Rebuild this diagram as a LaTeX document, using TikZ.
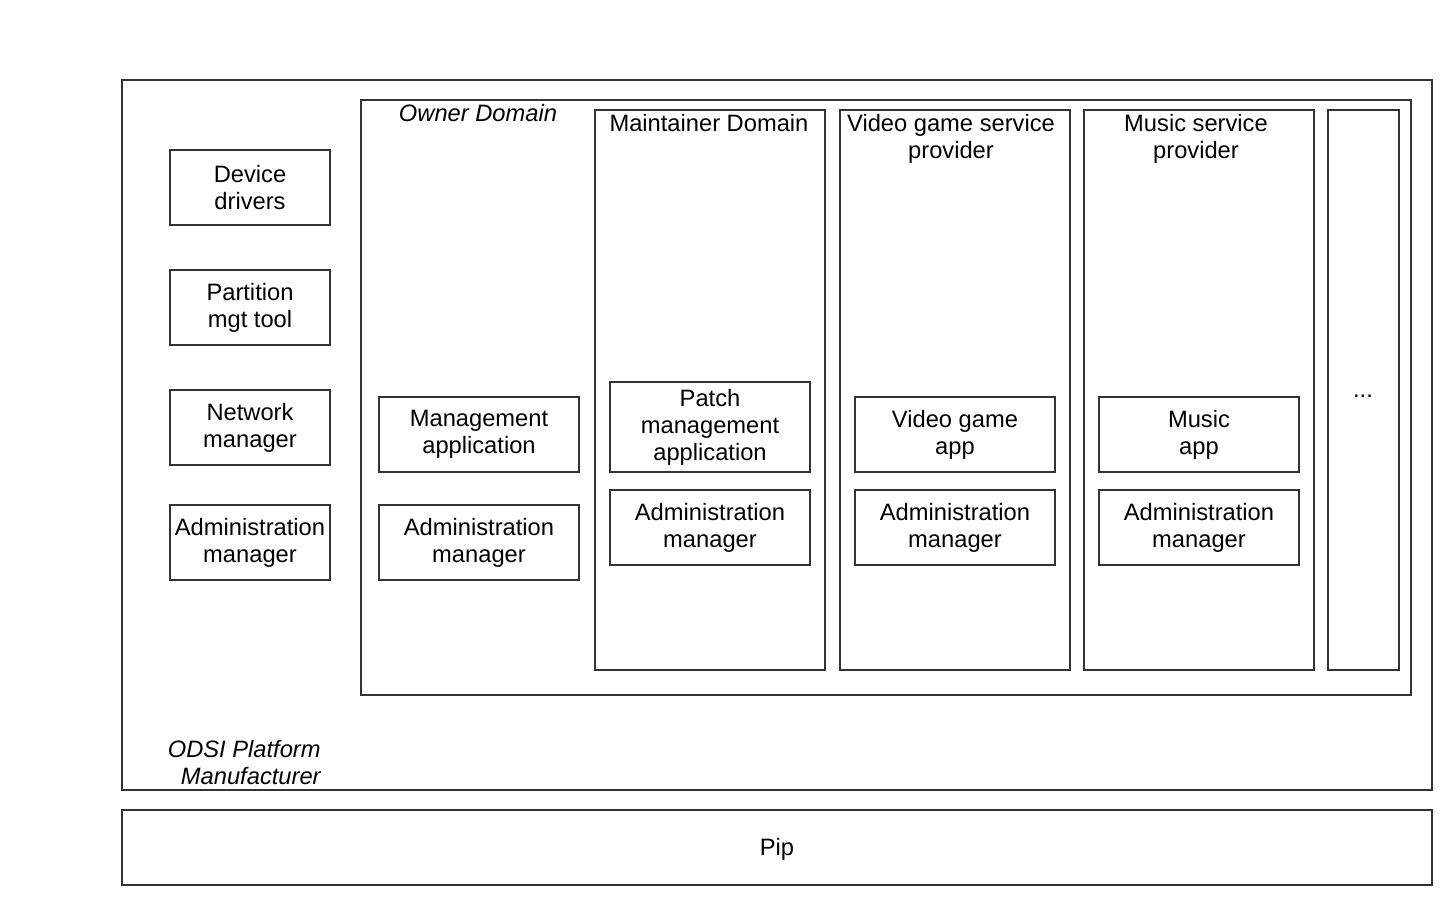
\documentclass[tikz,border=0pt]{standalone}
\usepackage{fontspec}
\setmainfont{Liberation Sans}
\usepackage{xcolor}
\usetikzlibrary{arrows.meta, positioning}
\definecolor{linegray}{HTML}{333333}
\tikzset{
	box/.style = {draw = linegray, line width = 1pt, rectangle, align = center, inner sep = 0pt, font = \fontsize{11.85}{13.5}\selectfont},
	smallbox/.style = {box, minimum width = 80pt, minimum height = 37.5pt},
	appbox/.style = {box, minimum width = 100pt, minimum height = 37.5pt},
	domainbox/.style = {box, minimum width = 115pt, minimum height = 280pt},
	title/.style = {align = center, inner sep = 0pt, font = \fontsize{11.85}{13.5}\selectfont}
}

\begin{document}
\begin{tikzpicture}[x = 0.5pt, y = -0.5pt]
		\useasboundingbox (0, 0) rectangle (1452, 905);

		% platform and pip
		\node [box, minimum width = 655pt, minimum height = 355pt] (odsi) at (777, 435) {};
		\node [title, anchor = east, align = right, font = \fontsize{11.85}{13.5}\selectfont\itshape] (odsilabel) at (321, 763) {ODSI Platform\\Manufacturer};
		\node [box, minimum width = 655pt, minimum height = 37.5pt] (pip) at (777, 847.5) {};
		\node [title] (piplabel) at (777, 849) {Pip};

		% left column
		\node [smallbox] (drivers) at (250, 187.5) {Device\\drivers};
		\node [smallbox] (partition) at (250, 307.5) {Partition\\mgt tool};
		\node [smallbox] (network) at (250, 427.5) {Network\\manager};
		\node [smallbox] (adminodsi) at (250, 542.5) {Administration\\manager};

		% owner domain
		\node [box, minimum width = 525pt, minimum height = 297.5pt] (owner) at (886, 397.5) {};
		\node [title, font = \fontsize{11.85}{13.5}\selectfont\itshape] (ownerlabel) at (478, 113) {Owner Domain};
		\node [appbox] (mgmtapp) at (479, 434.5) {Management\\application};
		\node [appbox] (adminowner) at (479, 542.5) {Administration\\manager};

		% maintainer domain
		\node [domainbox] (maintainer) at (710, 390) {};
		\node [title] (maintainerlabel) at (709, 123) {Maintainer Domain};
		\node [appbox, minimum height = 45pt] (patchapp) at (710, 427) {Patch\\management\\application};
		\node [appbox] (adminmaint) at (710, 527.5) {Administration\\manager};

		% video game service provider
		\node [domainbox] (video) at (955, 390) {};
		\node [title] (videolabel) at (951, 138.5) {Video game service\\provider};
		\node [appbox] (videoapp) at (955, 434.5) {Video game\\app};
		\node [appbox] (adminvideo) at (955, 527.5) {Administration\\manager};

		% music service provider
		\node [domainbox] (music) at (1199, 390) {};
		\node [title] (musiclabel) at (1196, 138.5) {Music service\\provider};
		\node [appbox] (musicapp) at (1199, 434.5) {Music\\app};
		\node [appbox] (adminmusic) at (1199, 527.5) {Administration\\manager};

		% more domains
		\node [box, minimum width = 35.5pt, minimum height = 280pt] (more) at (1363.5, 390) {};
		\node [title] (morelabel) at (1363, 396) {...};
	\end{tikzpicture}
\end{document}
